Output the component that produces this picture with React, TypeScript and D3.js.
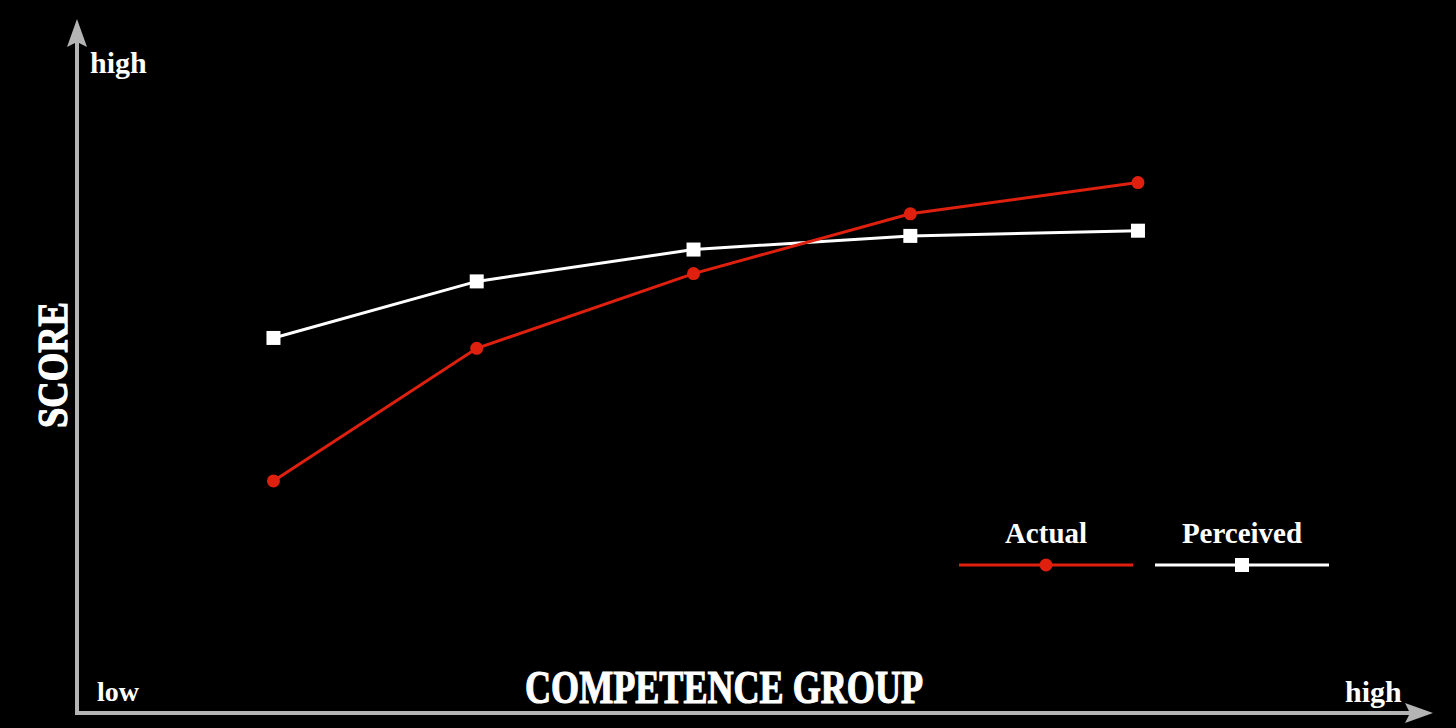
import React, { useEffect, useRef } from "react";
import * as d3 from "d3";

// competence groups, placed along the x axis (0 = low, 100 = high)
const groups = ["Q1", "Q2", "Q3", "Q4", "Q5"];
const groupPos = [14.5, 29.5, 45.5, 61.5, 78.3];

// scores (0 = axis bottom, 100 = near top)
const actual = [35.7, 56.1, 67.6, 76.8, 81.6];
const perceived = [57.7, 66.4, 71.3, 73.4, 74.2];

const legendLabels = ["Actual", "Perceived"];

const W = 1456;
const H = 728;
const RED = "#e0200e";
const AXIS = "#b4b4b4";
const FONT = "'Liberation Serif', 'Times New Roman', serif";

const App: React.FC = () => {
  const svgRef = useRef<SVGSVGElement | null>(null);

  useEffect(() => {
    document.body.style.margin = "0";
    document.body.style.background = "#000";
    if (!svgRef.current) return;
    const svg = d3.select(svgRef.current);
    svg.selectAll("*").remove();

    const origin = { x: 77, y: 713 };
    const xScale = d3.scaleLinear().domain([0, 100]).range([origin.x, 1432]);
    const yScale = d3.scaleLinear().domain([0, 100]).range([origin.y, 63]);

    svg.append("rect").attr("width", W).attr("height", H).attr("fill", "#000");

    // axes with arrow heads
    const axes = svg.append("g");
    axes
      .append("line")
      .attr("x1", origin.x)
      .attr("y1", origin.y + 2)
      .attr("x2", origin.x)
      .attr("y2", 40)
      .attr("stroke", AXIS)
      .attr("stroke-width", 4);
    axes
      .append("path")
      .attr("d", `M${origin.x},19 L${origin.x - 10},47 L${origin.x},42 L${origin.x + 10},47 Z`)
      .attr("fill", AXIS);
    axes
      .append("line")
      .attr("x1", origin.x - 2)
      .attr("y1", origin.y)
      .attr("x2", 1415)
      .attr("y2", origin.y)
      .attr("stroke", AXIS)
      .attr("stroke-width", 4);
    axes
      .append("path")
      .attr("d", `M1433,${origin.y} L1405,${origin.y - 10} L1410,${origin.y} L1405,${origin.y + 10} Z`)
      .attr("fill", AXIS);

    // axis labels
    const txt = (x: number, y: number, s: string, size: number, anchor = "start") =>
      svg
        .append("text")
        .attr("x", x)
        .attr("y", y)
        .attr("fill", "#fff")
        .attr("font-family", FONT)
        .attr("font-weight", "bold")
        .attr("font-size", size)
        .attr("text-anchor", anchor)
        .text(s);

    txt(90, 73, "high", 30);
    txt(97, 701, "low", 28);
    txt(1345, 702, "high", 30);
    txt(525, 703, "COMPETENCE GROUP", 46)
      .attr("textLength", 398)
      .attr("lengthAdjust", "spacingAndGlyphs")
      .attr("stroke", "#fff")
      .attr("stroke-width", 1.2);
    txt(-63, 0, "SCORE", 42)
      .attr("transform", "translate(67,365) rotate(-90)")
      .attr("textLength", 126)
      .attr("lengthAdjust", "spacingAndGlyphs")
      .attr("stroke", "#fff")
      .attr("stroke-width", 1.2);

    const line = d3
      .line<number>()
      .x((_, i) => xScale(groupPos[i]))
      .y((d) => yScale(d));

    // perceived (white, squares)
    svg
      .append("path")
      .datum(perceived)
      .attr("fill", "none")
      .attr("stroke", "#fff")
      .attr("stroke-width", 3)
      .attr("d", line);
    svg
      .append("g")
      .selectAll("rect")
      .data(perceived)
      .join("rect")
      .attr("x", (_, i) => xScale(groupPos[i]) - 7)
      .attr("y", (d) => yScale(d) - 7)
      .attr("width", 14)
      .attr("height", 14)
      .attr("fill", "#fff");

    // actual (red, circles)
    svg
      .append("path")
      .datum(actual)
      .attr("fill", "none")
      .attr("stroke", RED)
      .attr("stroke-width", 3)
      .attr("d", line);
    svg
      .append("g")
      .selectAll("circle")
      .data(actual)
      .join("circle")
      .attr("cx", (_, i) => xScale(groupPos[i]))
      .attr("cy", (d) => yScale(d))
      .attr("r", 6.5)
      .attr("fill", RED);

    // legend
    const legend = svg.append("g");
    const items = [
      { label: legendLabels[0], color: RED, cx: 1046, marker: "circle" },
      { label: legendLabels[1], color: "#fff", cx: 1242, marker: "square" },
    ];
    items.forEach((it) => {
      legend
        .append("text")
        .attr("x", it.cx)
        .attr("y", 543)
        .attr("fill", "#fff")
        .attr("font-family", FONT)
        .attr("font-weight", "bold")
        .attr("font-size", 29)
        .attr("text-anchor", "middle")
        .text(it.label);
      legend
        .append("line")
        .attr("x1", it.cx - 87)
        .attr("x2", it.cx + 87)
        .attr("y1", 565)
        .attr("y2", 565)
        .attr("stroke", it.color)
        .attr("stroke-width", 3);
      if (it.marker === "circle") {
        legend.append("circle").attr("cx", it.cx).attr("cy", 565).attr("r", 6.5).attr("fill", it.color);
      } else {
        legend
          .append("rect")
          .attr("x", it.cx - 7)
          .attr("y", 558)
          .attr("width", 14)
          .attr("height", 14)
          .attr("fill", it.color);
      }
    });

    svg.attr("data-groups", groups.join(","));
  }, []);

  return <svg ref={svgRef} width={W} height={H} style={{ display: "block" }}></svg>;
};

export default App;
